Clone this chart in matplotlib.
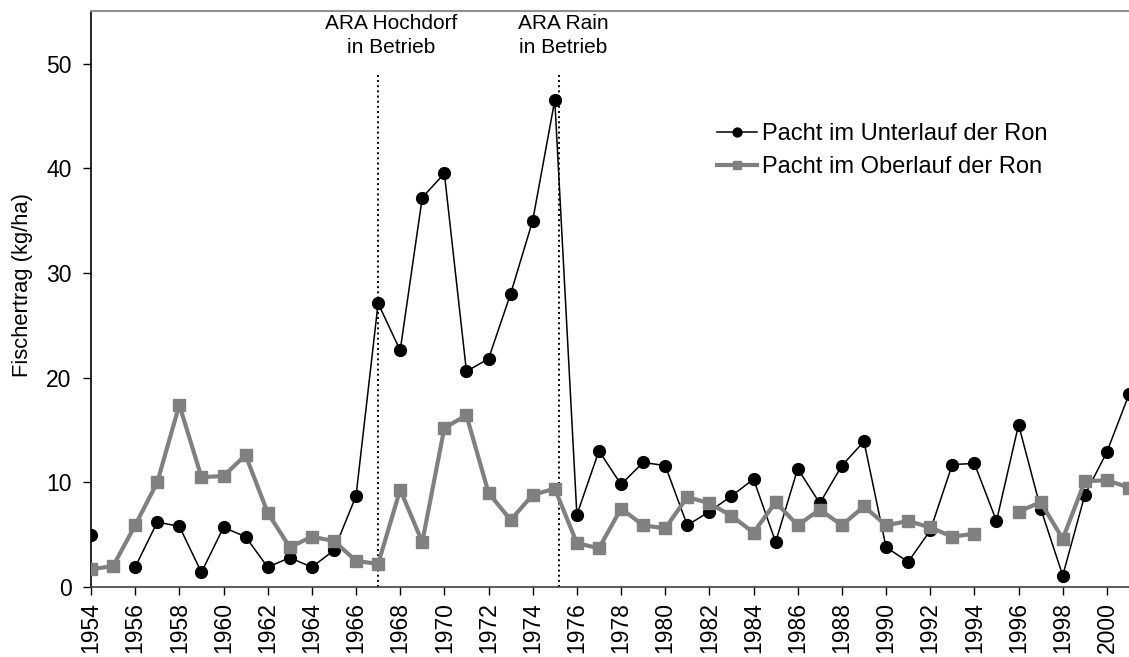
import numpy as np
import matplotlib
matplotlib.use("Agg")
import matplotlib.pyplot as plt

plt.rcParams['font.family'] = ['Liberation Sans', 'DejaVu Sans']

years = list(range(1954, 2002))
nan = np.nan

unterlauf = [5.0, nan, 1.9, 6.2, 5.8, 1.4, 5.7, 4.8, 1.9, 2.8,
             1.9, 3.5, 8.7, 27.1, 22.6, 37.2, 39.5, 20.6, 21.8, 28.0,
             35.0, 46.5, 6.9, 13.0, 9.8, 11.9, 11.6, 5.9, 7.2, 8.7,
             10.3, 4.3, 11.3, 8.0, 11.6, 13.9, 3.8, 2.4, 5.4, 11.7,
             11.8, 6.3, 15.5, 7.5, 1.1, 8.8, 12.9, 18.4]

oberlauf = [1.7, 2.0, 5.9, 10.0, 17.4, 10.5, 10.6, 12.6, 7.1, 3.8,
            4.8, 4.4, 2.5, 2.2, 9.3, 4.3, 15.2, 16.4, 9.0, 6.4,
            8.8, 9.4, 4.2, 3.7, 7.5, 5.9, 5.6, 8.6, 8.0, 6.8,
            5.2, 8.1, 5.9, 7.4, 5.9, 7.7, 5.9, 6.3, 5.7, 4.8,
            5.1, nan, 7.2, 8.1, 4.6, 10.1, 10.2, 9.5]

events = [1967, 1975.2]
event_text_x = [1967.6, 1975.4]
event_labels = ["ARA Hochdorf\nin Betrieb", "ARA Rain\nin Betrieb"]

fig = plt.figure(figsize=(11.29, 6.57), dpi=100)
ax = fig.add_axes([0.0806, 0.1065, 0.9194, 0.8765])

ax.plot(years, unterlauf, color='black', lw=1.1, marker='o', ms=8.5,
        label='Pacht im Unterlauf der Ron', zorder=3)
ax.plot(years, oberlauf, color='#808080', lw=3, marker='s', ms=8,
        label='Pacht im Oberlauf der Ron', zorder=4)

for x, tx, lab in zip(events, event_text_x, event_labels):
    ax.plot([x, x], [0, 49.2], color='black', ls=':', lw=1.4, zorder=2)
    ax.text(tx, 50.6, lab, ha='center', va='bottom', fontsize=15,
            linespacing=1.35)

ax.set_xlim(1954, 2001)
ax.set_ylim(0, 55)
ax.set_yticks(range(0, 51, 10))
ax.set_xticks(range(1954, 2001, 2))
ax.tick_params(axis='x', labelsize=16.5, rotation=90, length=6, width=1, pad=5)
ax.tick_params(axis='y', labelsize=16.5, length=6, width=1, pad=8)
ax.set_ylabel('Fischertrag (kg/ha)', fontsize=15.8)
ax.yaxis.set_label_coords(-0.0559, 0.524)

ax.spines['right'].set_visible(False)
ax.spines['top'].set_color('#909090')
ax.spines['top'].set_linewidth(1.5)
ax.spines['bottom'].set_color('#404040')
ax.spines['bottom'].set_linewidth(1.2)
ax.spines['left'].set_linewidth(1.2)

ax.legend(loc='upper left', bbox_to_anchor=(0.603, 0.805), frameon=False,
          fontsize=17, handlelength=1.7, handletextpad=0.2,
          labelspacing=0.45, borderpad=0, borderaxespad=0, markerscale=0.75)

fig.savefig('out.png', dpi=100)
